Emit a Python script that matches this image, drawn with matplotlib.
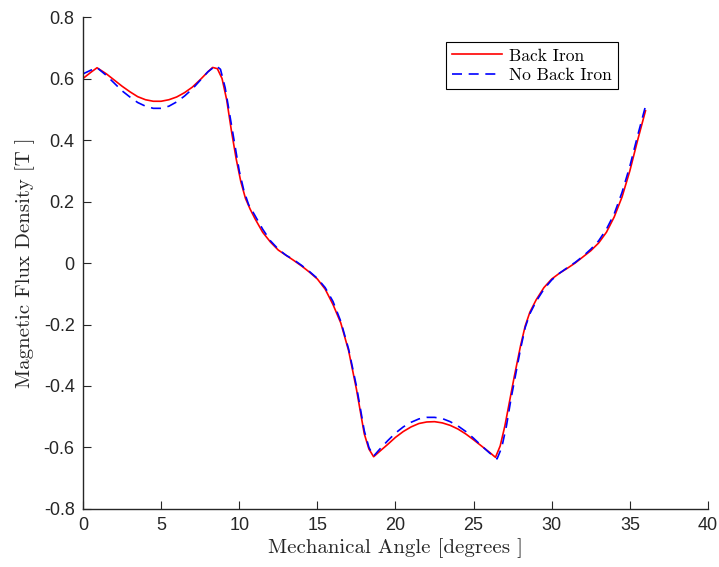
import matplotlib
matplotlib.use("Agg")
import matplotlib.pyplot as plt

# flux density along the air gap, with and without back iron
angle_bi = [0.0, 0.5, 0.9, 1.5, 2.0, 2.5, 3.0, 3.5, 4.0, 4.5, 5.0, 5.5, 6.0, 6.5, 7.0, 7.5,
            8.0, 8.3, 8.6, 8.9, 9.2, 9.5, 9.8, 10.1, 10.4, 10.7, 11.0, 11.5, 12.0, 12.5, 13.0,
            13.5, 14.0, 14.5, 15.0, 15.5, 16.0, 16.5, 17.0, 17.5, 18.0, 18.3, 18.6, 19.0,
            19.5, 20.0, 20.5, 21.0, 21.5, 22.0, 22.5, 23.0, 23.5, 24.0, 24.5, 25.0, 25.5,
            26.0, 26.4, 26.7, 27.0, 27.3, 27.6, 28.0, 28.3, 28.6, 29.0, 29.5, 30.0, 30.5,
            31.0, 31.5, 32.0, 32.5, 33.0, 33.5, 34.0, 34.5, 35.0, 35.5, 36.0]
b_bi = [0.600, 0.620, 0.635, 0.615, 0.595, 0.575, 0.557, 0.541, 0.531, 0.526, 0.526, 0.531,
        0.540, 0.554, 0.572, 0.596, 0.622, 0.636, 0.632, 0.600, 0.530, 0.430, 0.340, 0.265,
        0.210, 0.175, 0.145, 0.100, 0.068, 0.042, 0.025, 0.008, -0.010, -0.030, -0.052, -0.085,
        -0.135, -0.195, -0.285, -0.410, -0.555, -0.605, -0.630, -0.612, -0.590, -0.567,
        -0.548, -0.533, -0.522, -0.517, -0.516, -0.520, -0.528, -0.540, -0.556, -0.575,
        -0.595, -0.615, -0.632, -0.595, -0.530, -0.450, -0.370, -0.270, -0.205, -0.160,
        -0.120, -0.080, -0.052, -0.033, -0.017, 0.000, 0.020, 0.040, 0.065, 0.100, 0.150,
        0.215, 0.300, 0.400, 0.495]

angle_nbi = [0.0, 0.5, 0.9, 1.5, 2.0, 2.5, 3.0, 3.5, 4.0, 4.5, 5.0, 5.5, 6.0, 6.5, 7.0, 7.5,
             8.0, 8.5, 8.8, 9.1, 9.4, 9.7, 10.0, 10.3, 10.6, 11.0, 11.5, 12.0, 12.5, 13.0,
             13.5, 14.0, 14.5, 15.0, 15.5, 16.0, 16.5, 17.0, 17.5, 18.0, 18.3, 18.6, 19.0,
             19.5, 20.0, 20.5, 21.0, 21.5, 22.0, 22.5, 23.0, 23.5, 24.0, 24.5, 25.0, 25.5,
             26.0, 26.5, 26.8, 27.1, 27.4, 27.7, 28.0, 28.3, 28.6, 29.0, 29.5, 30.0, 30.5,
             31.0, 31.5, 32.0, 32.5, 33.0, 33.5, 34.0, 34.5, 35.0, 35.5, 36.0]
b_nbi = [0.615, 0.627, 0.635, 0.610, 0.585, 0.560, 0.540, 0.522, 0.510, 0.503, 0.503, 0.510,
         0.524, 0.543, 0.566, 0.594, 0.622, 0.642, 0.630, 0.570, 0.480, 0.390, 0.300, 0.235,
         0.190, 0.155, 0.110, 0.072, 0.045, 0.025, 0.010, -0.008, -0.028, -0.050, -0.080,
         -0.125, -0.190, -0.280, -0.400, -0.545, -0.600, -0.628, -0.605, -0.578, -0.553,
         -0.533, -0.518, -0.507, -0.502, -0.502, -0.506, -0.516, -0.530, -0.548, -0.570,
         -0.594, -0.617, -0.637, -0.600, -0.530, -0.440, -0.360, -0.280, -0.210, -0.165,
         -0.125, -0.085, -0.055, -0.033, -0.015, 0.002, 0.022, 0.045, 0.072, 0.110, 0.160,
         0.230, 0.315, 0.415, 0.510]

series_labels = ["Back Iron", "No Back Iron"]
xticks = [0, 5, 10, 15, 20, 25, 30, 35, 40]
yticks = [-0.8, -0.6, -0.4, -0.2, 0, 0.2, 0.4, 0.6, 0.8]
yticklabels = ["-0.8", "-0.6", "-0.4", "-0.2", "0", "0.2", "0.4", "0.6", "0.8"]

axis_col = "#262626"
serif = "cmr10"

fig = plt.figure(figsize=(7.19, 5.67), dpi=100)
ax = fig.add_axes([0.1154, 0.1023, 0.8693, 0.8677])

ax.plot(angle_bi, b_bi, color="red", lw=1.2, label=series_labels[0])
ax.plot(angle_nbi, b_nbi, color="blue", lw=1.2, ls=(0, (6, 4)), label=series_labels[1])

ax.set_xlim(0, 40)
ax.set_ylim(-0.8, 0.8)
ax.set_xticks(xticks)
ax.set_xticklabels([str(t) for t in xticks], fontfamily="Liberation Sans", fontsize=13, color=axis_col)
ax.set_yticks(yticks)
ax.set_yticklabels(yticklabels, fontfamily="Liberation Sans", fontsize=13, color=axis_col)
ax.tick_params(direction="in", length=6, width=0.8, color=axis_col, pad=6)

for side in ["top", "right"]:
    ax.spines[side].set_visible(False)
for side in ["left", "bottom"]:
    ax.spines[side].set_color(axis_col)
    ax.spines[side].set_linewidth(1.0)

ax.set_xlabel("Mechanical Angle [degrees ]", fontfamily=serif, fontsize=15, color=axis_col, labelpad=3)
ax.set_ylabel("Magnetic Flux Density [T ]", fontfamily=serif, fontsize=15, color=axis_col, labelpad=6)

leg = ax.legend(loc="upper right", bbox_to_anchor=(0.856, 0.949), prop={"family": serif, "size": 12.5},
                fancybox=False, framealpha=1, edgecolor="black", handlelength=2.9,
                borderpad=0.35, labelspacing=0.25, handletextpad=0.4, borderaxespad=0)
leg.get_frame().set_linewidth(0.8)

fig.savefig("out.png", dpi=100)
